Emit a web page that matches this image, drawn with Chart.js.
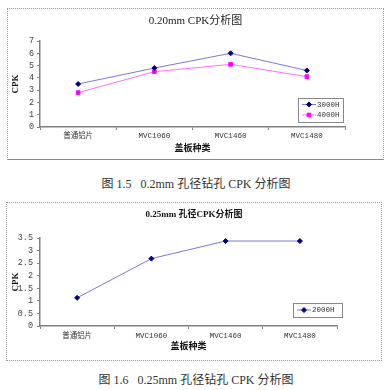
<!DOCTYPE html>
<html>
<head>
<meta charset="utf-8">
<script src="https://cdn.jsdelivr.net/npm/chart.js@4.4.1/dist/chart.umd.min.js"></script>
<style>
  body { margin: 0; width: 392px; height: 390px; background: #fff; position: relative; overflow: hidden; }
  .frame { position: absolute; box-sizing: border-box; border: 1px dotted #999; }
  #frame1 { left: 7px; top: 8px; width: 377px; height: 152px; border-bottom: 1px solid #888; }
  #frame2 { left: 6px; top: 202px; width: 376px; height: 159px; }
  canvas { position: absolute; }
  #c1 { left: 8px; top: 9px; }
  #c2 { left: 7px; top: 203px; }
  .cap { position: absolute; left: 0; width: 392px; text-align: center; white-space: pre;
         font: 12px 'Liberation Serif', 'Noto Sans CJK SC'; line-height: 16px; color: #333; }
</style>
</head>
<body>
<div class="frame" id="frame1"></div>
<div class="frame" id="frame2"></div>
<canvas id="c1" width="375" height="150"></canvas>
<canvas id="c2" width="374" height="157"></canvas>
<div class="cap" style="top:176px">图 1.5   0.2mm 孔径钻孔 CPK 分析图</div>
<div class="cap" style="top:372px">图 1.6   0.25mm 孔径钻孔 CPK 分析图</div>

<script>
// 数据
const categories = ['普通铝片', 'MVC1060', 'MVC1460', 'MVC1480'];
const cpk3000H = [3.5, 4.8, 6.0, 4.6];
const cpk4000H = [2.8, 4.5, 5.1, 4.1];
const cpk2000H = [1.12, 2.68, 3.38, 3.38];
const yTicks020 = [0, 1, 2, 3, 4, 5, 6, 7];
const yTicks025 = [0, 0.5, 1, 1.5, 2, 2.5, 3, 3.5];

const xTickFont = { family: "'Liberation Mono', 'Noto Sans CJK SC'", size: 7.5 };
const yTickFont = { family: "'Liberation Mono'", size: 8.5 };
const axisGray = '#808080';

// legend kotak di dalam area grafik
const boxLegend = {
    id: 'boxLegend',
    afterDraw(chart, args, opts) {
        const ctx = chart.ctx;
        ctx.save();
        ctx.fillStyle = '#fff';
        ctx.fillRect(opts.x, opts.y, opts.w, opts.h);
        ctx.strokeStyle = '#888';
        ctx.lineWidth = 1;
        ctx.strokeRect(opts.x + 0.5, opts.y + 0.5, opts.w, opts.h);
        chart.data.datasets.forEach((ds, i) => {
            const cy = opts.y + opts.rowTop + i * opts.rowH;
            ctx.strokeStyle = ds.borderColor;
            ctx.lineWidth = 1;
            ctx.beginPath();
            ctx.moveTo(opts.x + 4, cy);
            ctx.lineTo(opts.x + 18, cy);
            ctx.stroke();
            ctx.fillStyle = ds.pointBackgroundColor;
            ctx.strokeStyle = ds.pointBorderColor;
            Chart.helpers.drawPoint(ctx, { pointStyle: ds.pointStyle, radius: ds.pointRadius, borderWidth: 1 }, opts.x + 11, cy);
            ctx.fillStyle = '#333';
            ctx.font = "7.5px 'Liberation Mono', 'Noto Sans CJK SC'";
            ctx.textBaseline = 'middle';
            ctx.textAlign = 'left';
            ctx.fillText(ds.label, opts.x + 19, cy + 0.5);
        });
        ctx.restore();
    }
};

function makeScales(yTicks, yWidth, rightGap, xHeight, xTickPad, yTickPad, yTitlePad, xTitlePad) {
    return {
        x: {
            offset: true,
            afterFit: s => { s.height = xHeight; },
            grid: { drawOnChartArea: false, drawTicks: true, tickLength: 3, color: axisGray, offset: true },
            border: { color: axisGray, width: 1.5 },
            ticks: { font: xTickFont, color: '#333', padding: xTickPad, maxRotation: 0, autoSkip: false },
            title: { display: true, text: '盖板种类', color: '#111',
                     font: { family: "'Noto Sans CJK SC'", size: 9, weight: 'bold' },
                     padding: { top: 0, bottom: xTitlePad } }
        },
        y: {
            min: yTicks[0],
            max: yTicks[yTicks.length - 1],
            afterFit: s => { s.width = yWidth; },
            afterBuildTicks: s => { s.ticks = yTicks.map(v => ({ value: v })); },
            grid: { drawOnChartArea: false, drawTicks: true, tickLength: 3, color: axisGray },
            border: { color: axisGray, width: 1.5 },
            ticks: { font: yTickFont, color: '#444', padding: yTickPad, autoSkip: false,
                     callback: v => String(v) },
            title: { display: true, text: 'CPK', color: '#111',
                     font: { family: "'Liberation Serif'", size: 9, weight: 'bold' },
                     padding: { top: yTitlePad, bottom: 0 } }
        },
        // ruang kosong di kanan supaya judul tetap di tengah kanvas
        spacer: {
            position: 'right',
            afterFit: s => { s.width = rightGap; },
            grid: { display: false },
            border: { display: false },
            ticks: { display: false }
        }
    };
}

new Chart(document.getElementById('c1'), {
    type: 'line',
    data: {
        labels: categories,
        datasets: [{
            label: '3000H',
            data: cpk3000H,
            borderColor: '#7a7ad6',
            borderWidth: 1,
            pointStyle: 'rectRot',
            pointRadius: 2.5,
            pointBackgroundColor: '#000080',
            pointBorderColor: '#000080'
        }, {
            label: '4000H',
            data: cpk4000H,
            borderColor: '#ff70ff',
            borderWidth: 1,
            pointStyle: 'rect',
            pointRadius: 2.6,
            pointBackgroundColor: '#ff00ff',
            pointBorderColor: '#ff00ff'
        }]
    },
    options: {
        responsive: false,
        animation: false,
        layout: { padding: 0 },
        plugins: {
            legend: { display: false },
            tooltip: { enabled: false },
            title: { display: true, text: '0.20mm CPK分析图', color: '#222',
                     font: { family: "'Liberation Serif', 'Noto Sans CJK SC'", size: 11, weight: 'normal' },
                     padding: { top: 5.5, bottom: 13.3 } },
            boxLegend: { x: 290, y: 89, w: 45, h: 24, rowTop: 6.5, rowH: 10.5 }
        },
        scales: makeScales(yTicks020, 32, 38, 32, 1.5, 3, 2.6, 6)
    },
    plugins: [boxLegend]
});

new Chart(document.getElementById('c2'), {
    type: 'line',
    data: {
        labels: categories,
        datasets: [{
            label: '2000H',
            data: cpk2000H,
            borderColor: '#7a7ad6',
            borderWidth: 1,
            pointStyle: 'rectRot',
            pointRadius: 2.5,
            pointBackgroundColor: '#000080',
            pointBorderColor: '#000080'
        }]
    },
    options: {
        responsive: false,
        animation: false,
        layout: { padding: 0 },
        plugins: {
            legend: { display: false },
            tooltip: { enabled: false },
            title: { display: true, text: '0.25mm 孔径CPK分析图', color: '#111',
                     font: { family: "'Liberation Serif', 'Noto Sans CJK SC'", size: 9, weight: 'bold' },
                     padding: { top: 6.6, bottom: 17.6 } },
            boxLegend: { x: 286, y: 100, w: 49, h: 14, rowTop: 7, rowH: 10 }
        },
        scales: makeScales(yTicks025, 33, 44, 34, 3, 4, 3.6, 8.9)
    },
    plugins: [boxLegend]
});
</script>
</body>
</html>
